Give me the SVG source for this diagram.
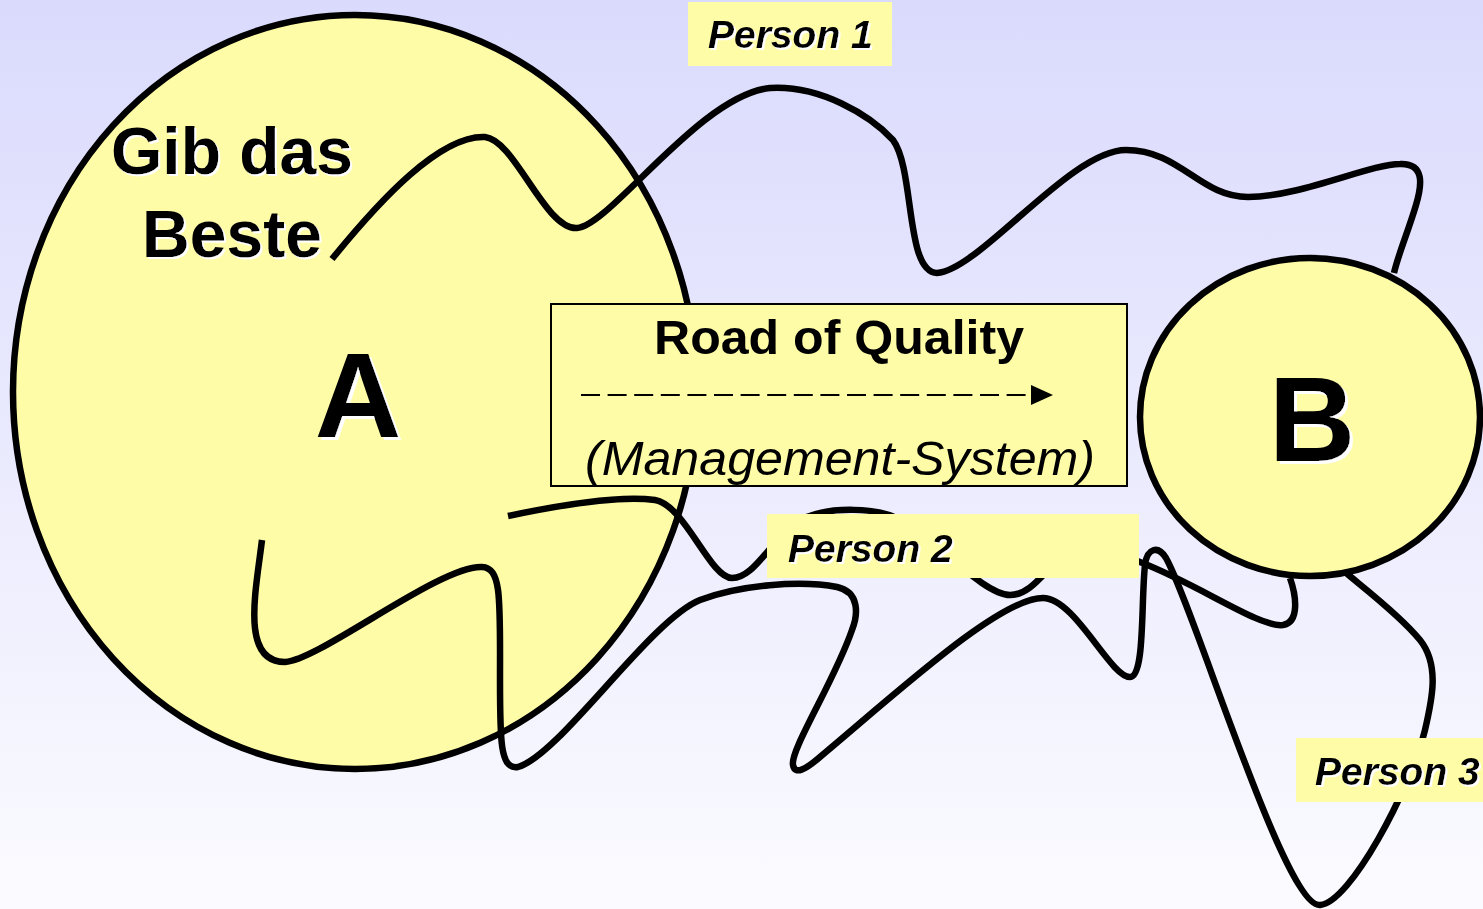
<svg xmlns="http://www.w3.org/2000/svg" width="1483" height="909" viewBox="0 0 1483 909">
<defs>
<linearGradient id="bg" x1="0" y1="0" x2="0" y2="1">
<stop offset="0" stop-color="#DADAFD"/>
<stop offset="1" stop-color="#FBFBFF"/>
</linearGradient>
<marker id="tri" markerWidth="22" markerHeight="20" refX="1" refY="10" orient="auto" markerUnits="userSpaceOnUse">
<path d="M0,0 L22,10 L0,20 Z" fill="#000"/>
</marker>
<filter id="shadow2" x="-10%" y="-10%" width="130%" height="130%">
<feFlood flood-color="#ffffff" result="w"/>
<feComposite in="w" in2="SourceAlpha" operator="in" result="wa"/>
<feOffset in="wa" dx="2" dy="2" result="off"/>
<feMerge><feMergeNode in="off"/><feMergeNode in="SourceGraphic"/></feMerge>
</filter>
<filter id="shadow3" x="-10%" y="-10%" width="130%" height="130%">
<feFlood flood-color="#ffffff" result="w"/>
<feComposite in="w" in2="SourceAlpha" operator="in" result="wa"/>
<feOffset in="wa" dx="3" dy="3" result="off"/>
<feMerge><feMergeNode in="off"/><feMergeNode in="SourceGraphic"/></feMerge>
</filter>
</defs>
<style>
.fill{fill:#FFFCA8}
.outline{stroke:#000;stroke-width:6.5}
.curve{fill:none;stroke:#000;stroke-width:6.5;stroke-linecap:butt;stroke-linejoin:round}
.t{font-family:"Liberation Sans",Arial,sans-serif;font-weight:bold;fill:#000}
.pl{font-family:"Liberation Sans",Arial,sans-serif;font-weight:bold;font-style:italic;font-size:39px;fill:#000;filter:url(#shadow2)}
.lbl{fill:#FFFCA8}
</style>
<rect x="0" y="0" width="1483" height="909" fill="url(#bg)"/>

<g id="node-A">
<ellipse class="fill outline" cx="355" cy="392" rx="342" ry="377"/>
<text class="t" x="232" y="174" font-size="66" text-anchor="middle" filter="url(#shadow2)">Gib das</text>
<text class="t" x="232" y="257" font-size="66" text-anchor="middle" filter="url(#shadow2)">Beste</text>
</g>

<g id="node-B">
<ellipse class="fill outline" cx="1310" cy="417" rx="170" ry="159"/>
</g>

<g id="connectors">
<path id="path-person1" class="curve" d="M332 259 C380 200 440 135 485 137 C515 140 545 230 577 228 C610 226 700 95 770 88 C820 85 870 115 893 140 C915 170 905 272 937 273 C980 270 1070 150 1126 150 C1180 150 1200 197 1248 197 C1300 197 1370 164 1400 164 C1425 163 1422 185 1416 205 C1408 232 1398 255 1394 273"/>
<path id="path-person2" class="curve" d="M508 516 C560 505 620 495 655 500 C685 505 710 578 732 578 C755 578 770 540 800 520 C830 505 880 508 900 520 C940 545 985 595 1010 595 C1035 595 1050 560 1070 552 C1095 545 1120 555 1140 562 C1200 585 1260 628 1283 625 C1300 622 1296 595 1290 578"/>
<path id="path-person3" class="curve" d="M262 540 C256 590 240 662 285 662 C320 660 440 565 482 567 C502 568 500 600 500 680 C500 740 500 770 518 767 C560 755 650 620 700 600 C740 585 800 580 837 587 C860 592 858 615 852 630 C835 680 790 750 793 765 C795 775 805 770 820 757 C900 690 1000 598 1043 598 C1075 598 1110 677 1130 677 C1145 678 1141 600 1145 565 C1147 548 1158 545 1166 558 C1195 610 1285 908 1320 905 C1350 903 1410 790 1425 730 C1432 700 1440 665 1420 640 C1400 615 1360 585 1345 572"/>
</g>

<g id="node-road">
<rect x="551" y="304" width="576" height="182" fill="#FFFCA8" stroke="#000" stroke-width="2"/>
<text class="t" x="839" y="354" font-size="48" text-anchor="middle" textLength="370" lengthAdjust="spacingAndGlyphs">Road of Quality</text>
<line x1="581" y1="395" x2="1032" y2="395" stroke="#000" stroke-width="2" stroke-dasharray="19 7.6" marker-end="url(#tri)"/>
<text x="840" y="475" font-family="'Liberation Sans',Arial,sans-serif" font-style="italic" font-size="48" fill="#000" text-anchor="middle" textLength="510" lengthAdjust="spacingAndGlyphs">(Management-System)</text>
</g>

<g id="node-A-label">
<text class="t" x="358" y="437" font-size="120" text-anchor="middle" filter="url(#shadow3)">A</text>
</g>

<g id="node-B-label">
<text class="t" x="1312" y="461" font-size="120" text-anchor="middle" filter="url(#shadow3)">B</text>
</g>

<g id="person1">
<rect class="lbl" x="688" y="2" width="204" height="64"/>
<text class="pl" x="708" y="48">Person 1</text>
</g>

<g id="person2">
<rect class="lbl" x="767" y="514" width="372" height="64"/>
<text class="pl" x="788" y="562">Person 2</text>
</g>

<g id="person3">
<rect class="lbl" x="1296" y="738" width="187" height="64"/>
<text class="pl" x="1315" y="785">Person 3</text>
</g>
</svg>
